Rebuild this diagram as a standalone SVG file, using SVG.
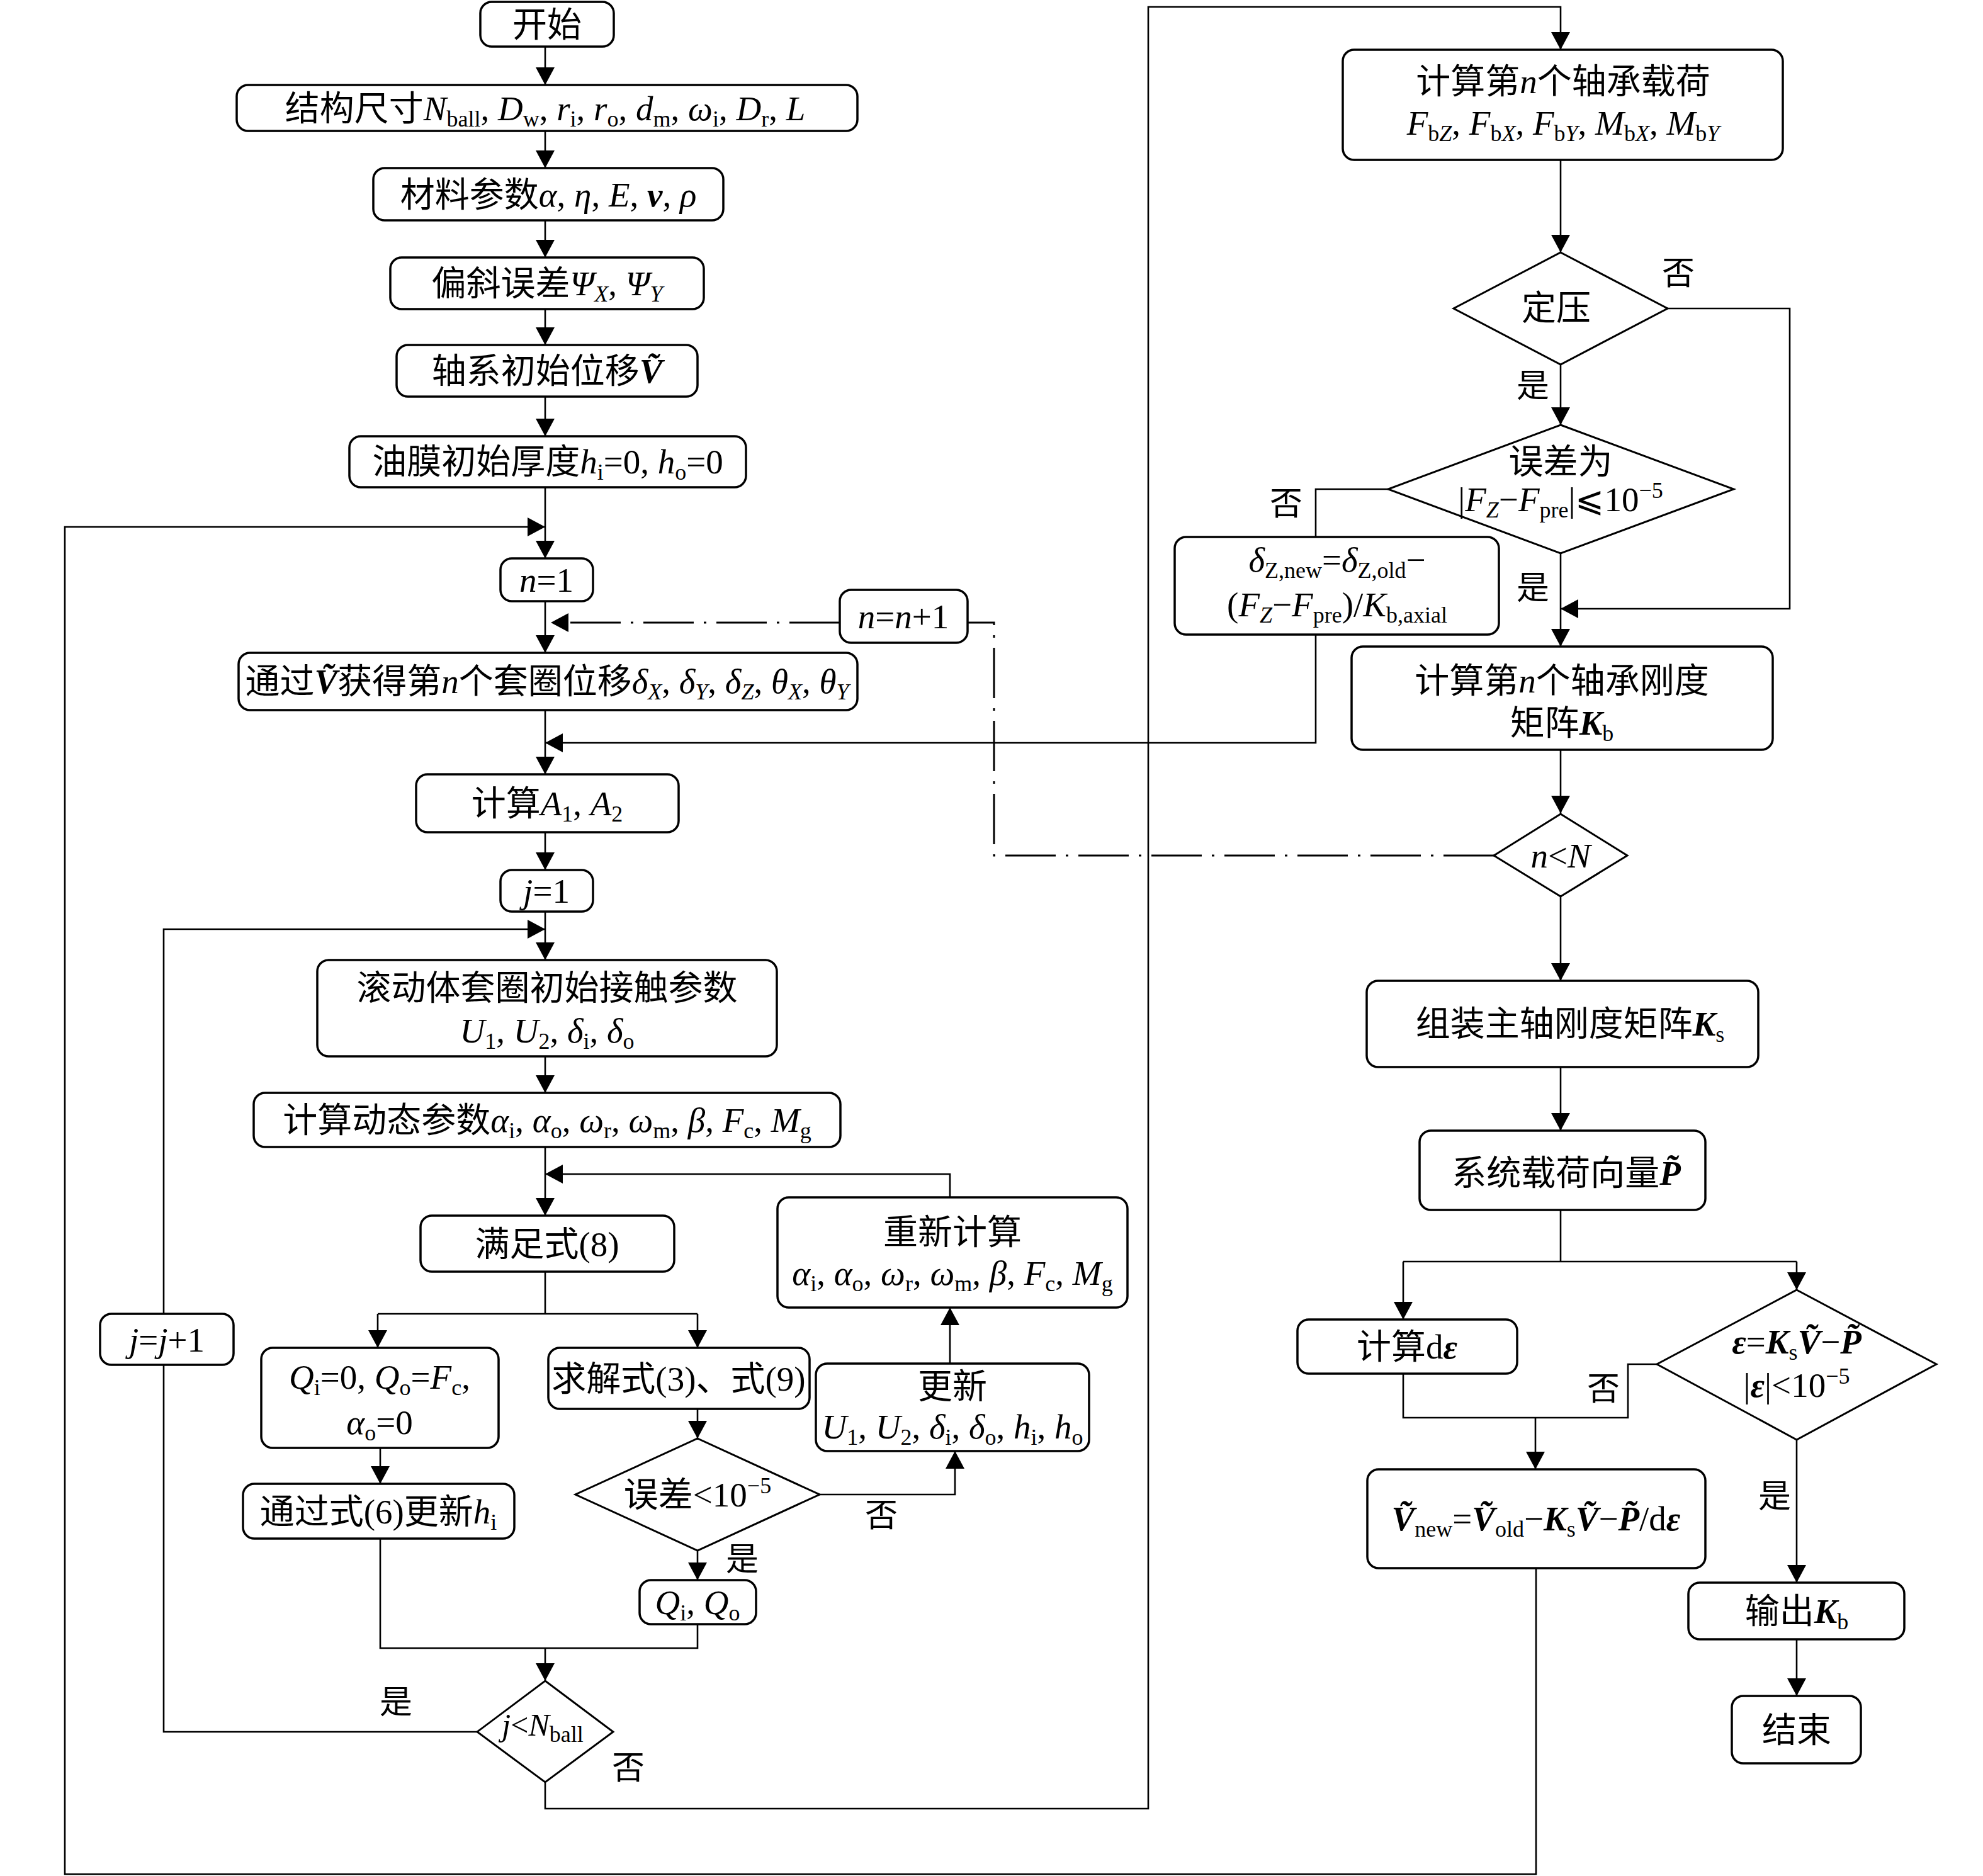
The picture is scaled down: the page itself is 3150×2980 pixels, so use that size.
<svg xmlns="http://www.w3.org/2000/svg" width="3150" height="2980" viewBox="0 0 3150 2980">
<style>
.box{fill:#fff;stroke:#000;stroke-width:3.5}
.dia{fill:#fff;stroke:#000;stroke-width:3}
.ln{fill:none;stroke:#000;stroke-width:2.6}
.dd{fill:none;stroke:#000;stroke-width:3;stroke-dasharray:80 16 4 16}
.t{font-family:"Liberation Serif","Noto Sans CJK SC",serif;font-size:55px;text-anchor:middle;fill:#000}
.lb{font-family:"Liberation Serif","Noto Sans CJK SC",serif;font-size:52px;text-anchor:middle;fill:#000}
.i{font-style:italic}
.bi{font-style:italic;font-weight:bold}
.s{font-size:36px;font-style:normal;font-weight:normal}
.si{font-size:36px;font-style:italic;font-weight:normal}
</style>
<defs>
<marker id="ah" markerUnits="userSpaceOnUse" markerWidth="30" markerHeight="32" refX="28" refY="15" orient="auto">
<path d="M0,0 L28,15 L0,30 Z" fill="#000"/>
</marker>
</defs>
<rect width="3150" height="2980" fill="#fff"/>

<g id="connectors">
<path class="ln" d="M866,74 V135" marker-end="url(#ah)"/>
<path class="ln" d="M866,208 V267" marker-end="url(#ah)"/>
<path class="ln" d="M866,350 V409" marker-end="url(#ah)"/>
<path class="ln" d="M866,491 V548" marker-end="url(#ah)"/>
<path class="ln" d="M866,630 V693" marker-end="url(#ah)"/>
<path class="ln" d="M866,774 V887" marker-end="url(#ah)"/>
<path class="ln" d="M2440,2491 V2977 H103 V837 H866" marker-end="url(#ah)"/>
<path class="ln" d="M866,955 V1037" marker-end="url(#ah)"/>
<path class="ln" d="M866,1128 V1230" marker-end="url(#ah)"/>
<path class="ln" d="M2090,1008 V1180 H866" marker-end="url(#ah)"/>
<path class="ln" d="M866,1322 V1382" marker-end="url(#ah)"/>
<path class="ln" d="M866,1448 V1525" marker-end="url(#ah)"/>
<path class="ln" d="M758,2751 H260 V2168"/>
<path class="ln" d="M260,2087 V1476 H866" marker-end="url(#ah)"/>
<path class="ln" d="M866,1678 V1736" marker-end="url(#ah)"/>
<path class="ln" d="M866,1822 V1931" marker-end="url(#ah)"/>
<path class="ln" d="M1509,1902 V1865 H866" marker-end="url(#ah)"/>
<path class="ln" d="M866,2020 V2087 M600,2087 H1108"/>
<path class="ln" d="M600,2087 V2141" marker-end="url(#ah)"/>
<path class="ln" d="M1108,2087 V2141" marker-end="url(#ah)"/>
<path class="ln" d="M1108,2238 V2285" marker-end="url(#ah)"/>
<path class="ln" d="M1302,2374 H1517 V2305" marker-end="url(#ah)"/>
<path class="ln" d="M1509,2166 V2077" marker-end="url(#ah)"/>
<path class="ln" d="M1108,2463 V2510" marker-end="url(#ah)"/>
<path class="ln" d="M604,2300 V2357" marker-end="url(#ah)"/>
<path class="ln" d="M604,2444 V2618 H1108 V2580"/>
<path class="ln" d="M866,2618 V2670" marker-end="url(#ah)"/>
<path class="ln" d="M866,2831 V2873 H1824 V11 H2479 V79" marker-end="url(#ah)"/>
<path class="ln" d="M2479,254 V401" marker-end="url(#ah)"/>
<path class="ln" d="M2649,490 H2843 V967 H2479" marker-end="url(#ah)"/>
<path class="ln" d="M2479,579 V675" marker-end="url(#ah)"/>
<path class="ln" d="M2205,777 H2090 V853"/>
<path class="ln" d="M2479,879 V1027" marker-end="url(#ah)"/>
<path class="ln" d="M2479,1191 V1292" marker-end="url(#ah)"/>
<path class="dd" d="M2373,1359 H1579 V989 H1537"/>
<path class="dd" d="M1334,989 H875" marker-end="url(#ah)"/>
<path class="ln" d="M2479,1424 V1558" marker-end="url(#ah)"/>
<path class="ln" d="M2479,1695 V1796" marker-end="url(#ah)"/>
<path class="ln" d="M2479,1922 V2004 M2229,2004 H2854"/>
<path class="ln" d="M2229,2004 V2096" marker-end="url(#ah)"/>
<path class="ln" d="M2854,2004 V2049" marker-end="url(#ah)"/>
<path class="ln" d="M2632,2167 H2586 V2252 H2229 V2182"/>
<path class="ln" d="M2439,2252 V2334" marker-end="url(#ah)"/>
<path class="ln" d="M2854,2287 V2514" marker-end="url(#ah)"/>
<path class="ln" d="M2854,2604 V2694" marker-end="url(#ah)"/>
</g>

<g id="n_start"><rect class="box" x="763" y="3" width="212" height="71" rx="18"/>
<text class="t" x="869" y="58">开始</text></g>

<g id="n_struct"><rect class="box" x="376" y="135" width="986" height="73" rx="18"/>
<text class="t" x="866" y="191">结构尺寸<tspan class="i">N</tspan><tspan class="s" dy="10">ball</tspan><tspan dy="-10">, </tspan><tspan class="i">D</tspan><tspan class="s" dy="10">w</tspan><tspan dy="-10">, </tspan><tspan class="i">r</tspan><tspan class="s" dy="10">i</tspan><tspan dy="-10">, </tspan><tspan class="i">r</tspan><tspan class="s" dy="10">o</tspan><tspan dy="-10">, </tspan><tspan class="i">d</tspan><tspan class="s" dy="10">m</tspan><tspan dy="-10">, </tspan><tspan class="i">ω</tspan><tspan class="s" dy="10">i</tspan><tspan dy="-10">, </tspan><tspan class="i">D</tspan><tspan class="s" dy="10">r</tspan><tspan dy="-10">, </tspan><tspan class="i">L</tspan></text></g>

<g id="n_material"><rect class="box" x="593" y="267" width="556" height="83" rx="18"/>
<text class="t" x="871" y="328">材料参数<tspan class="i">α</tspan>, <tspan class="i">η</tspan>, <tspan class="i">E</tspan>, <tspan class="bi">v</tspan>, <tspan class="i">ρ</tspan></text></g>

<g id="n_tilt"><rect class="box" x="620" y="409" width="498" height="82" rx="18"/>
<text class="t" x="869" y="469">偏斜误差<tspan class="i">Ψ</tspan><tspan class="si" dy="10">X</tspan><tspan dy="-10">, </tspan><tspan class="i">Ψ</tspan><tspan class="si" dy="10">Y</tspan></text></g>

<g id="n_initdisp"><rect class="box" x="630" y="548" width="478" height="82" rx="18"/>
<text class="t" x="869" y="608">轴系初始位移<tspan class="bi">V&#x303;</tspan></text></g>

<g id="n_oil"><rect class="box" x="555" y="693" width="630" height="81" rx="18"/>
<text class="t" x="870" y="752">油膜初始厚度<tspan class="i">h</tspan><tspan class="s" dy="10">i</tspan><tspan dy="-10">=0, </tspan><tspan class="i">h</tspan><tspan class="s" dy="10">o</tspan><tspan dy="-10">=0</tspan></text></g>

<g id="n_n1"><rect class="box" x="795" y="887" width="147" height="68" rx="18"/>
<text class="t" x="868" y="940"><tspan class="i">n</tspan>=1</text></g>

<g id="n_nplus"><rect class="box" x="1334" y="937" width="203" height="84" rx="18"/>
<text class="t" x="1435" y="998"><tspan class="i">n</tspan>=<tspan class="i">n</tspan>+1</text></g>

<g id="n_ring"><rect class="box" x="379" y="1037" width="983" height="91" rx="18"/>
<text class="t" x="869" y="1101">通过<tspan class="bi">V&#x303;</tspan>获得第<tspan class="i">n</tspan>个套圈位移<tspan class="i">δ</tspan><tspan class="si" dy="10">X</tspan><tspan dy="-10">, </tspan><tspan class="i">δ</tspan><tspan class="si" dy="10">Y</tspan><tspan dy="-10">, </tspan><tspan class="i">δ</tspan><tspan class="si" dy="10">Z</tspan><tspan dy="-10">, </tspan><tspan class="i">θ</tspan><tspan class="si" dy="10">X</tspan><tspan dy="-10">, </tspan><tspan class="i">θ</tspan><tspan class="si" dy="10">Y</tspan></text></g>

<g id="n_A"><rect class="box" x="661" y="1230" width="417" height="92" rx="18"/>
<text class="t" x="869" y="1295">计算<tspan class="i">A</tspan><tspan class="s" dy="10">1</tspan><tspan dy="-10">, </tspan><tspan class="i">A</tspan><tspan class="s" dy="10">2</tspan></text></g>

<g id="n_j1"><rect class="box" x="795" y="1382" width="147" height="66" rx="18"/>
<text class="t" x="868" y="1434"><tspan class="i">j</tspan>=1</text></g>

<g id="n_contact"><rect class="box" x="504" y="1525" width="730" height="153" rx="18"/>
<text class="t" x="869" y="1588">滚动体套圈初始接触参数</text>
<text class="t" x="869" y="1656"><tspan class="i">U</tspan><tspan class="s" dy="10">1</tspan><tspan dy="-10">, </tspan><tspan class="i">U</tspan><tspan class="s" dy="10">2</tspan><tspan dy="-10">, </tspan><tspan class="i">δ</tspan><tspan class="s" dy="10">i</tspan><tspan dy="-10">, </tspan><tspan class="i">δ</tspan><tspan class="s" dy="10">o</tspan></text></g>

<g id="n_dynamic"><rect class="box" x="403" y="1736" width="932" height="86" rx="18"/>
<text class="t" x="869" y="1798">计算动态参数<tspan class="i">α</tspan><tspan class="s" dy="10">i</tspan><tspan dy="-10">, </tspan><tspan class="i">α</tspan><tspan class="s" dy="10">o</tspan><tspan dy="-10">, </tspan><tspan class="i">ω</tspan><tspan class="s" dy="10">r</tspan><tspan dy="-10">, </tspan><tspan class="i">ω</tspan><tspan class="s" dy="10">m</tspan><tspan dy="-10">, </tspan><tspan class="i">β</tspan>, <tspan class="i">F</tspan><tspan class="s" dy="10">c</tspan><tspan dy="-10">, </tspan><tspan class="i">M</tspan><tspan class="s" dy="10">g</tspan></text></g>

<g id="n_eq8"><rect class="box" x="668" y="1931" width="403" height="89" rx="18"/>
<text class="t" x="869" y="1995">满足式(8)</text></g>

<g id="n_recalc"><rect class="box" x="1235" y="1902" width="556" height="175" rx="18"/>
<text class="t" x="1513" y="1976">重新计算</text>
<text class="t" x="1513" y="2041"><tspan class="i">α</tspan><tspan class="s" dy="10">i</tspan><tspan dy="-10">, </tspan><tspan class="i">α</tspan><tspan class="s" dy="10">o</tspan><tspan dy="-10">, </tspan><tspan class="i">ω</tspan><tspan class="s" dy="10">r</tspan><tspan dy="-10">, </tspan><tspan class="i">ω</tspan><tspan class="s" dy="10">m</tspan><tspan dy="-10">, </tspan><tspan class="i">β</tspan>, <tspan class="i">F</tspan><tspan class="s" dy="10">c</tspan><tspan dy="-10">, </tspan><tspan class="i">M</tspan><tspan class="s" dy="10">g</tspan></text></g>

<g id="n_jplus"><rect class="box" x="159" y="2087" width="212" height="81" rx="18"/>
<text class="t" x="265" y="2147"><tspan class="i">j</tspan>=<tspan class="i">j</tspan>+1</text></g>

<g id="n_q0"><rect class="box" x="415" y="2141" width="377" height="159" rx="18"/>
<text class="t" x="603" y="2206"><tspan class="i">Q</tspan><tspan class="s" dy="10">i</tspan><tspan dy="-10">=0, </tspan><tspan class="i">Q</tspan><tspan class="s" dy="10">o</tspan><tspan dy="-10">=</tspan><tspan class="i">F</tspan><tspan class="s" dy="10">c</tspan><tspan dy="-10">,</tspan></text>
<text class="t" x="603" y="2278"><tspan class="i">α</tspan><tspan class="s" dy="10">o</tspan><tspan dy="-10">=0</tspan></text></g>

<g id="n_solve"><rect class="box" x="871" y="2141" width="415" height="97" rx="18"/>
<text class="t" x="1078" y="2209">求解式(3)、式(9)</text></g>

<g id="n_update"><rect class="box" x="1296" y="2166" width="434" height="139" rx="18"/>
<text class="t" x="1513" y="2221">更新</text>
<text class="t" x="1513" y="2285"><tspan class="i">U</tspan><tspan class="s" dy="10">1</tspan><tspan dy="-10">, </tspan><tspan class="i">U</tspan><tspan class="s" dy="10">2</tspan><tspan dy="-10">, </tspan><tspan class="i">δ</tspan><tspan class="s" dy="10">i</tspan><tspan dy="-10">, </tspan><tspan class="i">δ</tspan><tspan class="s" dy="10">o</tspan><tspan dy="-10">, </tspan><tspan class="i">h</tspan><tspan class="s" dy="10">i</tspan><tspan dy="-10">, </tspan><tspan class="i">h</tspan><tspan class="s" dy="10">o</tspan></text></g>

<g id="n_err1"><polygon class="dia" points="1108,2285 1302,2374 1108,2463 914,2374"/>
<text class="t" x="1108" y="2393">误差&lt;10<tspan class="s" dy="-21">−5</tspan></text></g>

<g id="n_hi"><rect class="box" x="386" y="2357" width="431" height="87" rx="18"/>
<text class="t" x="601" y="2420">通过式(6)更新<tspan class="i">h</tspan><tspan class="s" dy="10">i</tspan></text></g>

<g id="n_qq"><rect class="box" x="1016" y="2510" width="185" height="70" rx="18"/>
<text class="t" x="1108" y="2564"><tspan class="i">Q</tspan><tspan class="s" dy="10">i</tspan><tspan dy="-10">, </tspan><tspan class="i">Q</tspan><tspan class="s" dy="10">o</tspan></text></g>

<g id="n_jN"><polygon class="dia" points="866,2670 974,2751 866,2831 758,2751"/>
<text class="t" x="862" y="2757" style="font-size:50px"><tspan class="i">j</tspan>&lt;<tspan class="i">N</tspan><tspan class="s" dy="10">ball</tspan></text></g>

<g id="n_load"><rect class="box" x="2133" y="79" width="699" height="175" rx="18"/>
<text class="t" x="2483" y="148">计算第<tspan class="i">n</tspan>个轴承载荷</text>
<text class="t" x="2483" y="214"><tspan class="i">F</tspan><tspan class="s" dy="10">b<tspan class="i">Z</tspan></tspan><tspan dy="-10">, </tspan><tspan class="i">F</tspan><tspan class="s" dy="10">b<tspan class="i">X</tspan></tspan><tspan dy="-10">, </tspan><tspan class="i">F</tspan><tspan class="s" dy="10">b<tspan class="i">Y</tspan></tspan><tspan dy="-10">, </tspan><tspan class="i">M</tspan><tspan class="s" dy="10">b<tspan class="i">X</tspan></tspan><tspan dy="-10">, </tspan><tspan class="i">M</tspan><tspan class="s" dy="10">b<tspan class="i">Y</tspan></tspan></text></g>

<g id="n_press"><polygon class="dia" points="2479,401 2649,490 2479,579 2309,490"/>
<text class="t" x="2472" y="508">定压</text></g>

<g id="n_err2"><polygon class="dia" points="2479,675 2754,777 2479,879 2205,777"/>
<text class="t" x="2479" y="752">误差为</text>
<text class="t" x="2479" y="812">|<tspan class="i">F</tspan><tspan class="si" dy="10">Z</tspan><tspan dy="-10">−</tspan><tspan class="i">F</tspan><tspan class="s" dy="10">pre</tspan><tspan dy="-10">|⩽10</tspan><tspan class="s" dy="-21">−5</tspan></text></g>

<g id="n_dz"><rect class="box" x="1866" y="853" width="515" height="155" rx="18"/>
<text class="t" x="2124" y="908"><tspan class="i">δ</tspan><tspan class="s" dy="10">Z,new</tspan><tspan dy="-10">=</tspan><tspan class="i">δ</tspan><tspan class="s" dy="10">Z,old</tspan><tspan dy="-10">−</tspan></text>
<text class="t" x="2124" y="979">(<tspan class="i">F</tspan><tspan class="si" dy="10">Z</tspan><tspan dy="-10">−</tspan><tspan class="i">F</tspan><tspan class="s" dy="10">pre</tspan><tspan dy="-10">)/</tspan><tspan class="i">K</tspan><tspan class="s" dy="10">b,axial</tspan></text></g>

<g id="n_kb"><rect class="box" x="2147" y="1027" width="669" height="164" rx="18"/>
<text class="t" x="2481" y="1100">计算第<tspan class="i">n</tspan>个轴承刚度</text>
<text class="t" x="2481" y="1167">矩阵<tspan class="bi">K</tspan><tspan class="s" dy="10">b</tspan></text></g>

<g id="n_nN"><polygon class="dia" points="2479,1293 2585,1359 2479,1424 2373,1359"/>
<text class="t" x="2479" y="1378"><tspan class="i">n</tspan>&lt;<tspan class="i">N</tspan></text></g>

<g id="n_ks"><rect class="box" x="2171" y="1558" width="622" height="137" rx="18"/>
<text class="t" x="2494" y="1645">组装主轴刚度矩阵<tspan class="bi">K</tspan><tspan class="s" dy="10">s</tspan></text></g>

<g id="n_p"><rect class="box" x="2255" y="1796" width="454" height="126" rx="18"/>
<text class="t" x="2488" y="1882">系统载荷向量<tspan class="bi">P&#x303;</tspan></text></g>

<g id="n_de"><rect class="box" x="2061" y="2096" width="349" height="86" rx="18"/>
<text class="t" x="2235" y="2158">计算d<tspan class="bi">ε</tspan></text></g>

<g id="n_eps"><polygon class="dia" points="2854,2049 3076,2167 2854,2287 2632,2167"/>
<text class="t" x="2854" y="2150"><tspan class="bi">ε</tspan>=<tspan class="bi">K</tspan><tspan class="s" dy="10">s</tspan><tspan class="bi" dy="-10">V&#x303;</tspan>−<tspan class="bi">P&#x303;</tspan></text>
<text class="t" x="2854" y="2219">|<tspan class="bi">ε</tspan>|&lt;10<tspan class="s" dy="-21">−5</tspan></text></g>

<g id="n_vnew"><rect class="box" x="2172" y="2334" width="537" height="157" rx="18"/>
<text class="t" x="2440" y="2431"><tspan class="bi">V&#x303;</tspan><tspan class="s" dy="10">new</tspan><tspan dy="-10">=</tspan><tspan class="bi">V&#x303;</tspan><tspan class="s" dy="10">old</tspan><tspan dy="-10">−</tspan><tspan class="bi">K</tspan><tspan class="s" dy="10">s</tspan><tspan class="bi" dy="-10">V&#x303;</tspan>−<tspan class="bi">P&#x303;</tspan>/d<tspan class="bi">ε</tspan></text></g>

<g id="n_out"><rect class="box" x="2682" y="2514" width="343" height="90" rx="18"/>
<text class="t" x="2854" y="2578">输出<tspan class="bi">K</tspan><tspan class="s" dy="10">b</tspan></text></g>

<g id="n_end"><rect class="box" x="2751" y="2694" width="205" height="107" rx="18"/>
<text class="t" x="2854" y="2767">结束</text></g>

<g id="labels">
<text class="lb" x="2666" y="452">否</text>
<text class="lb" x="2435" y="631">是</text>
<text class="lb" x="2043" y="818">否</text>
<text class="lb" x="2435" y="952">是</text>
<text class="lb" x="1400" y="2425">否</text>
<text class="lb" x="1179" y="2495">是</text>
<text class="lb" x="629" y="2722">是</text>
<text class="lb" x="998" y="2826">否</text>
<text class="lb" x="2547" y="2224">否</text>
<text class="lb" x="2819" y="2395">是</text>
</g>
</svg>
